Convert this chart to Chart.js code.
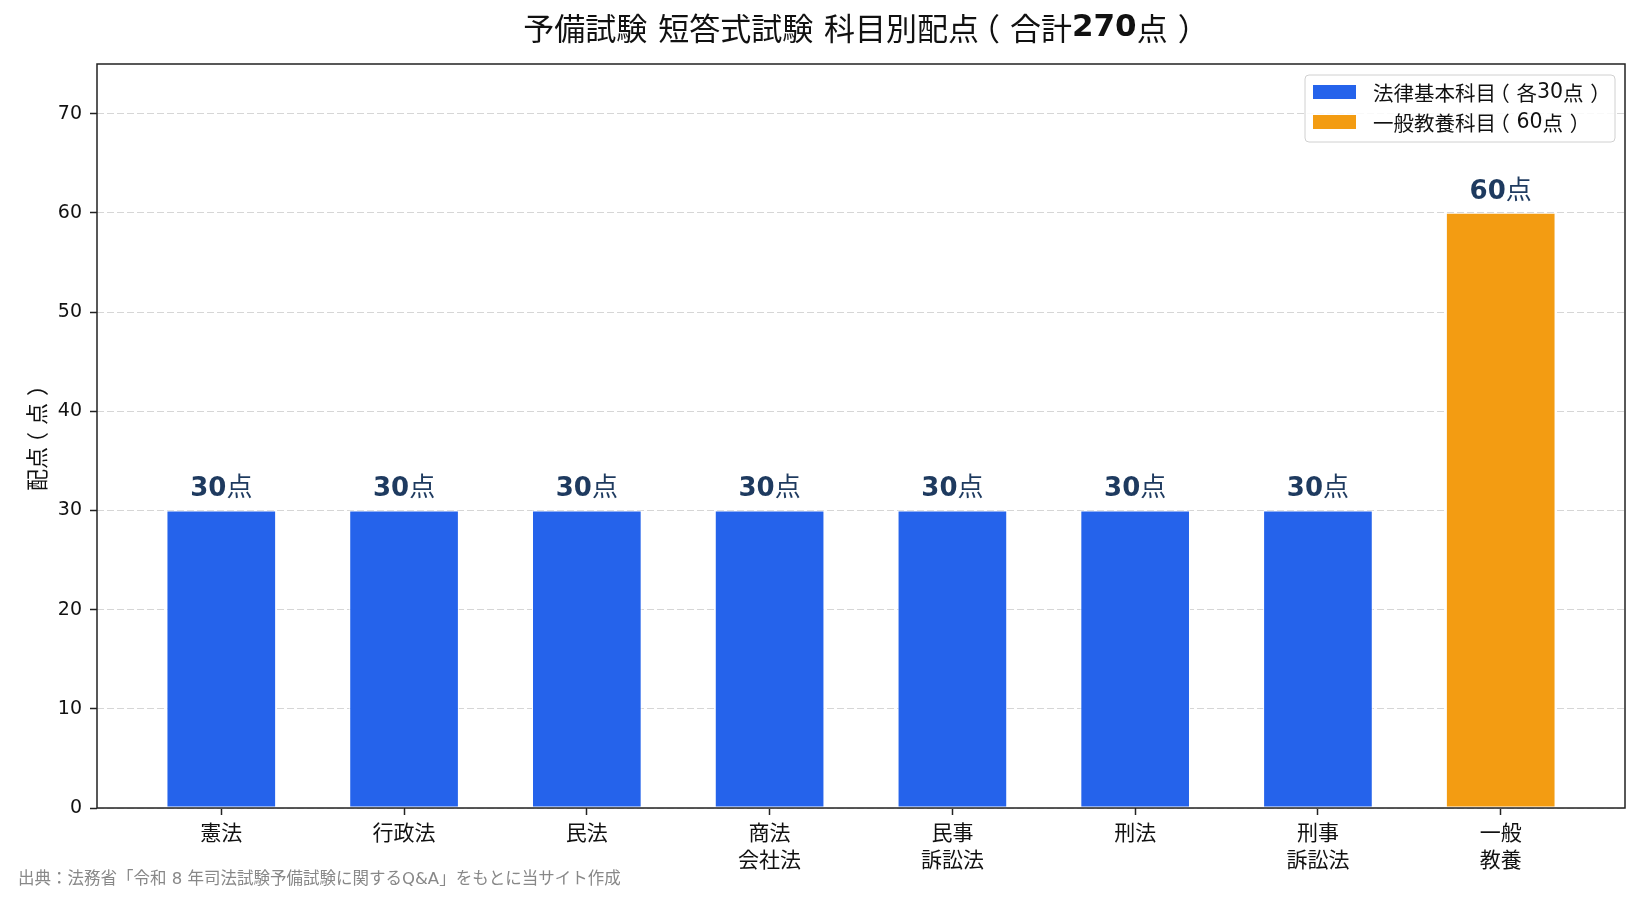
<!DOCTYPE html>
<html>
<head>
<meta charset="utf-8">
<script src="https://cdn.jsdelivr.net/npm/chart.js@4"></script>
<style>
  html, body { margin: 0; padding: 0; background: #fff; }
  #wrap { width: 1641px; height: 902px; }
</style>
</head>
<body>
<div id="wrap"><canvas id="chart" width="1641" height="902"></canvas></div>
<script>
// data
const categories = [['憲法'], ['行政法'], ['民法'], ['商法', '会社法'], ['民事', '訴訟法'], ['刑法'], ['刑事', '訴訟法'], ['一般', '教養']];
const scores = [30, 30, 30, 30, 30, 30, 30, 60];
const groups = [0, 0, 0, 0, 0, 0, 0, 1];
const seriesNames = ['法律基本科目（各30点）', '一般教養科目（60点）'];
const seriesColors = ['#2563eb', '#f39c12'];
const yTicks = [0, 10, 20, 30, 40, 50, 60, 70];
const titleText = '予備試験 短答式試験 科目別配点（合計270点）';
const yTitle = '配点（点）';
const sourceNote = '出典：法務省「令和 8 年司法試験予備試験に関するQ&A」をもとに当サイト作成';

const LATIN = 'DejaVu Sans';
const CJK = '"Noto Sans CJK JP"';
const FAMILY = LATIN + ', ' + CJK;

// split text into latin / paren / cjk runs so digits can be bold while CJK stays regular
function splitRuns(text, size, latinWeight) {
    const runs = [];
    const re = /[0-9A-Za-z&. ]+|[（）]|[^0-9A-Za-z&. （）]+/g;
    let m;
    while ((m = re.exec(text)) !== null) {
        const latin = /^[0-9A-Za-z&. ]/.test(m[0]);
        runs.push({
            t: m[0],
            size: size,
            centered: /^[（）]/.test(m[0]),
            font: latin ? latinWeight + ' ' + size + 'px ' + LATIN : 'normal ' + size + 'px ' + CJK
        });
    }
    return runs;
}

// full-width parens are drawn centred in their em box
function drawRuns(ctx, runs, x, y, align) {
    let total = 0;
    runs.forEach(r => {
        ctx.font = r.font;
        r.w = r.centered ? r.size : ctx.measureText(r.t).width;
        total += r.w;
    });
    let cx = align === 'center' ? x - total / 2 : x;
    ctx.textAlign = 'left';
    runs.forEach(r => {
        ctx.font = r.font;
        if (r.centered) {
            const mt = ctx.measureText(r.t);
            const inkMid = (mt.actualBoundingBoxRight - mt.actualBoundingBoxLeft) / 2;
            ctx.fillText(r.t, cx + r.w / 2 - inkMid, y);
        } else {
            ctx.fillText(r.t, cx, y);
        }
        cx += r.w;
    });
}

const extras = {
    id: 'extras',
    afterDatasetsDraw(chart) {
        const ctx = chart.ctx;
        const area = chart.chartArea;
        ctx.save();

        // value labels
        ctx.fillStyle = '#1e3a5f';
        ctx.textBaseline = 'alphabetic';
        chart.data.datasets.forEach((ds, di) => {
            chart.getDatasetMeta(di).data.forEach((bar, i) => {
                const v = ds.data[i].y;
                if (v === null) return;
                drawRuns(ctx, splitRuns(v + '点', 26, 'bold'), bar.x, bar.y - 14, 'center');
            });
        });

        // frame
        ctx.strokeStyle = '#222';
        ctx.lineWidth = 1.5;
        ctx.strokeRect(area.left, area.top, area.right - area.left, area.bottom - area.top);

        // legend
        const boxW = 310;
        const boxX = area.right - 10 - boxW;
        const boxY = area.top + 11;
        const boxH = 67;
        ctx.beginPath();
        ctx.roundRect(boxX, boxY, boxW, boxH, 4);
        ctx.fillStyle = 'rgba(255,255,255,0.85)';
        ctx.fill();
        ctx.strokeStyle = '#d0d0d0';
        ctx.lineWidth = 1;
        ctx.stroke();
        seriesNames.forEach((name, g) => {
            const cy = boxY + 17 + g * 30;
            ctx.fillStyle = seriesColors[g];
            ctx.fillRect(boxX + 8, cy - 7, 43, 14);
            ctx.fillStyle = '#111';
            ctx.textBaseline = 'middle';
            drawRuns(ctx, splitRuns(name, 20.5, 'normal'), boxX + 68, cy + 1, 'left');
        });

        // title
        ctx.fillStyle = '#111';
        ctx.textBaseline = 'middle';
        drawRuns(ctx, splitRuns(titleText, 31, 'bold'), (area.left + area.right) / 2, 28, 'center');

        // y axis title
        ctx.save();
        ctx.translate(37, (area.top + area.bottom) / 2);
        ctx.rotate(-Math.PI / 2);
        ctx.textBaseline = 'middle';
        drawRuns(ctx, splitRuns(yTitle, 22, 'normal'), 0, 0, 'center');
        ctx.restore();

        // source note
        ctx.fillStyle = '#888';
        ctx.font = '16.5px ' + FAMILY;
        ctx.textAlign = 'left';
        ctx.textBaseline = 'alphabetic';
        ctx.fillText(sourceNote, 18, 884);
        ctx.restore();
    }
};

const datasets = seriesNames.map((name, g) => ({
    label: name,
    data: scores.map((v, i) => ({ x: i, y: groups[i] === g ? v : null })),
    backgroundColor: seriesColors[g],
    borderColor: '#ffffff',
    borderWidth: 1,
    borderSkipped: false,
    barPercentage: 0.6,
    categoryPercentage: 1
}));

new Chart(document.getElementById('chart'), {
    type: 'bar',
    data: { datasets: datasets },
    plugins: [extras],
    options: {
        responsive: false,
        animation: false,
        layout: { padding: { top: 64, right: 16, left: 0, bottom: 0 } },
        plugins: {
            legend: { display: false },
            tooltip: { enabled: false },
            title: { display: false }
        },
        scales: {
            x: {
                type: 'linear',
                stacked: true,
                offset: false,
                min: -0.68,
                max: 7.68,
                afterBuildTicks: s => { s.ticks = categories.map((_, i) => ({ value: i })); },
                afterFit: s => { s.height = 94; },
                grid: { display: true, offset: false, drawOnChartArea: false, drawTicks: true, tickLength: 7, tickColor: '#222', tickWidth: 1.5 },
                border: { display: false },
                ticks: {
                    autoSkip: false,
                    maxRotation: 0,
                    padding: 6,
                    color: '#111',
                    font: { family: FAMILY, size: 21, lineHeight: 1.3 },
                    callback: v => categories[v]
                }
            },
            y: {
                stacked: true,
                min: 0,
                max: 75,
                afterBuildTicks: s => { s.ticks = yTicks.map(v => ({ value: v })); },
                afterFit: s => { s.width = 97; },
                grid: { color: '#d6d6d6', lineWidth: 1, drawTicks: true, tickLength: 7, tickColor: '#222', tickWidth: 1.5, tickBorderDash: [] },
                border: { display: false, dash: [7, 3] },
                ticks: {
                    padding: 8,
                    color: '#111',
                    font: { family: FAMILY, size: 19 }
                }
            }
        }
    }
});
</script>
</body>
</html>
